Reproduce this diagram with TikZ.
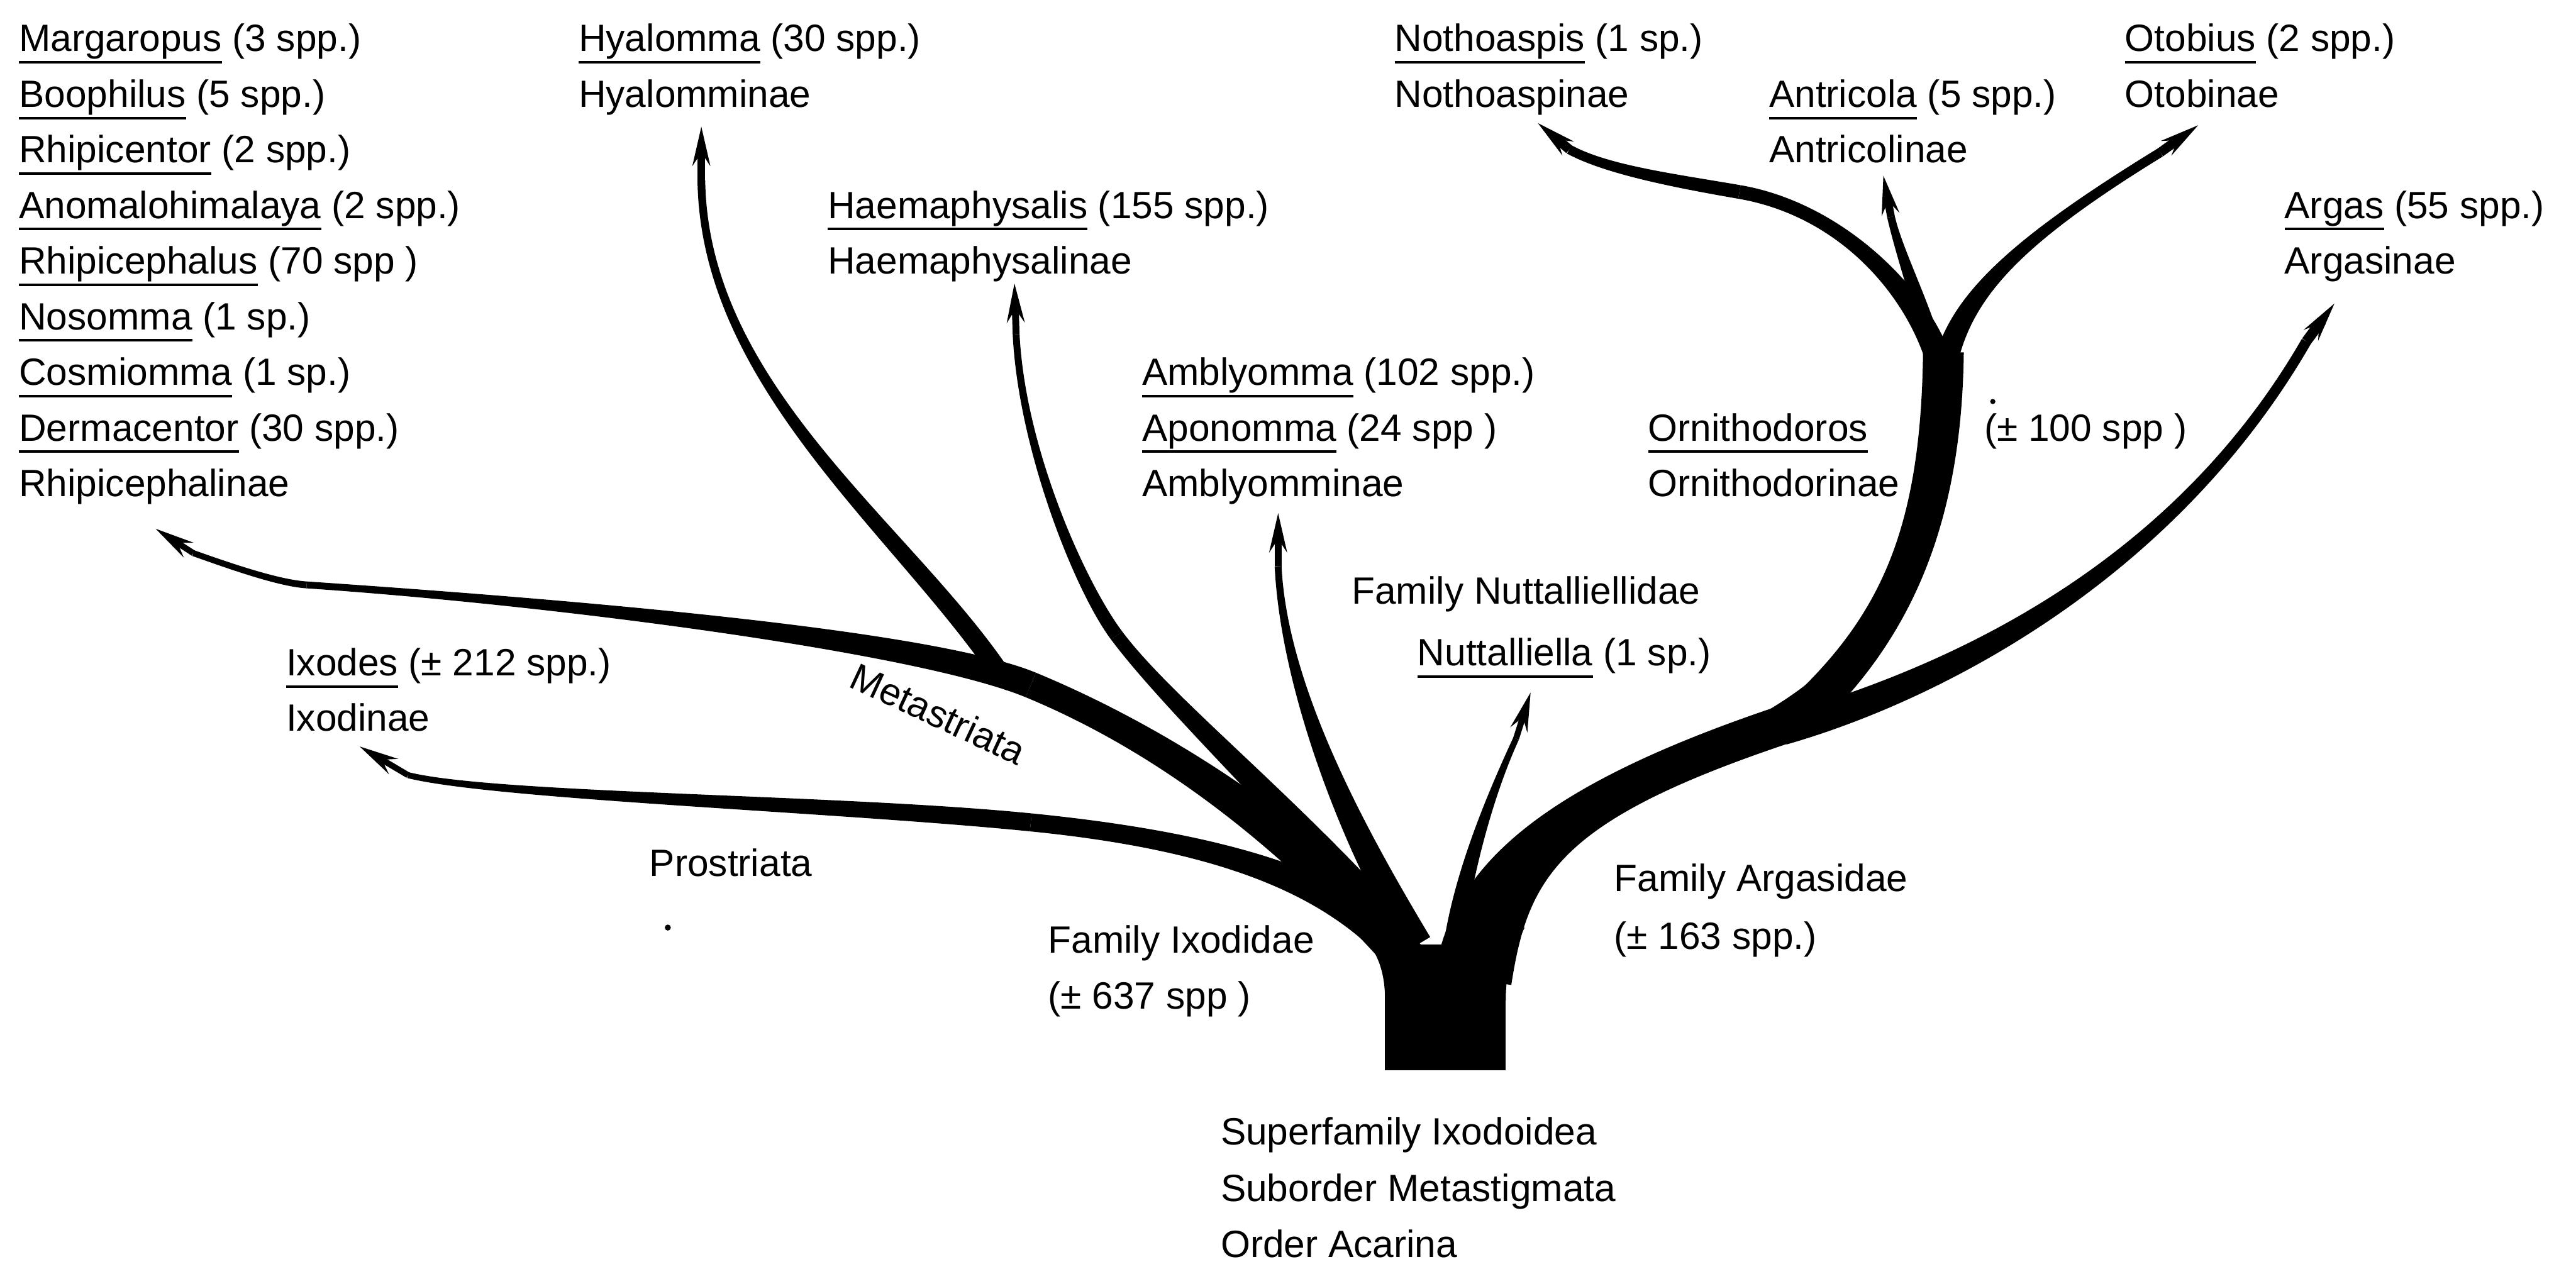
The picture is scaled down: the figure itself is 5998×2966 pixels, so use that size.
\documentclass[tikz,border=0pt]{standalone}
\usepackage{fontspec}
\setmainfont{Liberation Sans}
\usetikzlibrary{calc,arrows.meta}

% underlined genus name, rule at a fixed depth
\newcommand{\genus}[1]{\setbox0=\hbox{#1}\rlap{\rule[-4pt]{\wd0}{0.85pt}}\box0\relax}
% tapered branch: start, control, control, end, start width, end width (px)
\newcommand{\branch}[6]{%
  \pgfmathsetlengthmacro\wA{#5*0.025mm}%
  \pgfmathsetlengthmacro\wB{#6*0.025mm}%
  \fill ($#1!\wA!90:#2$) .. controls ($#2!\wA!-90:#1$) and ($#3!\wB!90:#4$) .. ($#4!\wB!-90:#3$)
    -- ($#4!\wB!90:#3$) .. controls ($#3!\wB!-90:#4$) and ($#2!\wA!90:#1$) .. ($#1!\wA!-90:#2$) -- cycle;}

\begin{document}
\begin{tikzpicture}[x=0.005cm,y=-0.005cm,
  lbl/.style={anchor=base west,inner sep=0pt,font=\fontsize{12.6}{15}\selectfont},
  tip/.style={-{Stealth[length=4.5mm,width=2mm]}}]
\useasboundingbox (0,0) rectangle (5998,2966);
% arrow ends and tips
\coordinate (ixS) at (950,1805);  \coordinate (ixT) at (837,1738);
\coordinate (rhS) at (450,1288);  \coordinate (rhT) at (362,1231);
\coordinate (hyS) at (1633,420);  \coordinate (hyT) at (1633,294);
\coordinate (haS) at (2366,780);  \coordinate (haT) at (2362,659);
\coordinate (amS) at (2976,1320); \coordinate (amT) at (2976,1194);
\coordinate (nuS) at (3530,1720); \coordinate (nuT) at (3564,1612);
\coordinate (noS) at (3654,348);  \coordinate (noT) at (3580,286);
\coordinate (anS) at (4403,505);  \coordinate (anT) at (4385,408);
\coordinate (otS) at (5030,355);  \coordinate (otT) at (5119,291);
\coordinate (arS) at (5370,795);  \coordinate (arT) at (5436,706);
% joints
\coordinate (proJ) at (2400,1915);
\coordinate (metJ) at (2400,1595);
\coordinate (metK) at (714,1362);
\coordinate (haeJ) at (2600,1480);
\coordinate (argJ) at (4200,1672);
\coordinate (ornJ) at (4525,820);
\coordinate (notJ) at (4050,447);

% trunk
\fill (3225,2200) rectangle (3506,2492);
\fill (3225,2330) .. controls (3225,2250) and (3200,2200) .. (3150,2160) -- (3300,2160) -- (3300,2330) -- cycle;
\fill (3506,2330) .. controls (3506,2250) and (3525,2210) .. (3550,2160) -- (3430,2160) -- (3430,2330) -- cycle;
% Ixodidae
\branch{(3300,2260)}{(3150,2060)}{(2850,1960)}{(proJ)}{90}{42}
\branch{(proJ)}{(1950,1870)}{(1150,1855)}{(ixS)}{42}{14}
\branch{(3250,2200)}{(3050,1980)}{(2750,1740)}{(metJ)}{100}{62}
\branch{(metJ)}{(2150,1492)}{(1300,1402)}{(metK)}{62}{16}
\branch{(metK)}{(650,1358)}{(540,1320)}{(rhS)}{16}{14}
\branch{(2330,1570)}{(2100,1230)}{(1640,900)}{(hyS)}{45}{18}
\branch{(3280,2200)}{(3000,1880)}{(2720,1640)}{(haeJ)}{70}{32}
\branch{(haeJ)}{(2516,1368)}{(2380,1050)}{(haS)}{32}{16}
\branch{(3300,2200)}{(3150,1950)}{(2990,1600)}{(amS)}{70}{16}
% Nuttalliellidae
\branch{(3380,2230)}{(3400,2050)}{(3470,1850)}{(nuS)}{45}{14}
% Argasidae
\branch{(3430,2280)}{(3470,2020)}{(3620,1860)}{(argJ)}{180}{90}
\fill (3800,1800) .. controls (4000,1720) and (4200,1640) .. (4330,1470) -- (4370,1520) -- (4250,1700) -- (3850,1830) -- cycle;
\branch{(4150,1700)}{(4500,1600)}{(5050,1350)}{(arS)}{70}{24}
\branch{(4180,1680)}{(4400,1480)}{(4520,1250)}{(ornJ)}{90}{95}
\branch{(4520,860)}{(4480,700)}{(4300,490)}{(notJ)}{60}{32}
\branch{(notJ)}{(3900,421)}{(3740,395)}{(noS)}{32}{22}
\branch{(4505,820)}{(4470,700)}{(4420,580)}{(anS)}{40}{18}
\branch{(4525,870)}{(4555,700)}{(4680,570)}{(otS)}{55}{22}
\foreach \b/\w in {ix/0.7,rh/0.7,hy/0.9,ha/0.8,am/0.8,nu/0.7,no/1.1,an/0.9,ot/1.1,ar/1.2}
  \draw[tip,line width=\w mm] (\b S) -- (\b T);

% labels
\foreach \g/\n [count=\i from 0] in {Margaropus/(3 spp.),Boophilus/(5 spp.),Rhipicentor/(2 spp.),
    Anomalohimalaya/(2 spp.),Rhipicephalus/(70 spp ),Nosomma/(1 sp.),Cosmiomma/(1 sp.),Dermacentor/(30 spp.)}
  \node[lbl] (rh\i) at (43,120+129.5*\i) {\genus{\g} \n};
\node[lbl] (rhipi) at (43,1156) {Rhipicephalinae};
\node[lbl] (hyal) at (1346,120) {\genus{Hyalomma} (30 spp.)};
\node[lbl] (hyalsub) at (1346,249.5) {Hyalomminae};
\node[lbl] (haem) at (1926,508.5) {\genus{Haemaphysalis} (155 spp.)};
\node[lbl] (haemsub) at (1926,638) {Haemaphysalinae};
\node[lbl] (ambl) at (2658,897) {\genus{Amblyomma} (102 spp.)};
\node[lbl] (apon) at (2658,1026.5) {\genus{Aponomma} (24 spp )};
\node[lbl] (amblsub) at (2658,1156) {Amblyomminae};
\node[lbl] (noth) at (3246,120) {\genus{Nothoaspis} (1 sp.)};
\node[lbl] (nothsub) at (3246,249.5) {Nothoaspinae};
\node[lbl] (antr) at (4118,249.5) {\genus{Antricola} (5 spp.)};
\node[lbl] (antrsub) at (4118,379) {Antricolinae};
\node[lbl] (otob) at (4946,120) {\genus{Otobius} (2 spp.)};
\node[lbl] (otobsub) at (4946,249.5) {Otobinae};
\node[lbl] (arga) at (5318,508.5) {\genus{Argas} (55 spp.)};
\node[lbl] (argasub) at (5318,638) {Argasinae};
\node[lbl] (orni) at (3836,1026.5) {\genus{Ornithodoros}};
\node[lbl] (ornisub) at (3836,1156) {Ornithodorinae};
\node[lbl] (orninum) at (4619,1026.5) {(± 100 spp )};
\node[lbl] (nuttfam) at (3146,1407) {Family Nuttalliellidae};
\node[lbl] (nutt) at (3299,1550) {\genus{Nuttalliella} (1 sp.)};
\node[lbl] (ixod) at (665,1574) {\genus{Ixodes} (± 212 spp.)};
\node[lbl] (ixodsub) at (665,1702) {Ixodinae};
\node[lbl] (pro) at (1511,2040) {Prostriata};
\node[lbl,anchor=center,rotate=-25] (meta) at (2185,1662) {Metastriata};
\node[lbl] (ixfam) at (2439,2219) {Family Ixodidae};
\node[lbl] (ixnum) at (2439,2350) {(± 637 spp )};
\node[lbl] (arfam) at (3757,2075) {Family Argasidae};
\node[lbl] (arnum) at (3757,2211) {(± 163 spp.)};
\node[lbl] (sup) at (2841,2666) {Superfamily Ixodoidea};
\node[lbl] (sub) at (2841,2797) {Suborder Metastigmata};
\node[lbl] (ord) at (2841,2928) {Order Acarina};
\fill (1555,2160) circle[radius=7];
\fill (4640,935) circle[radius=6];
\end{tikzpicture}
\end{document}
